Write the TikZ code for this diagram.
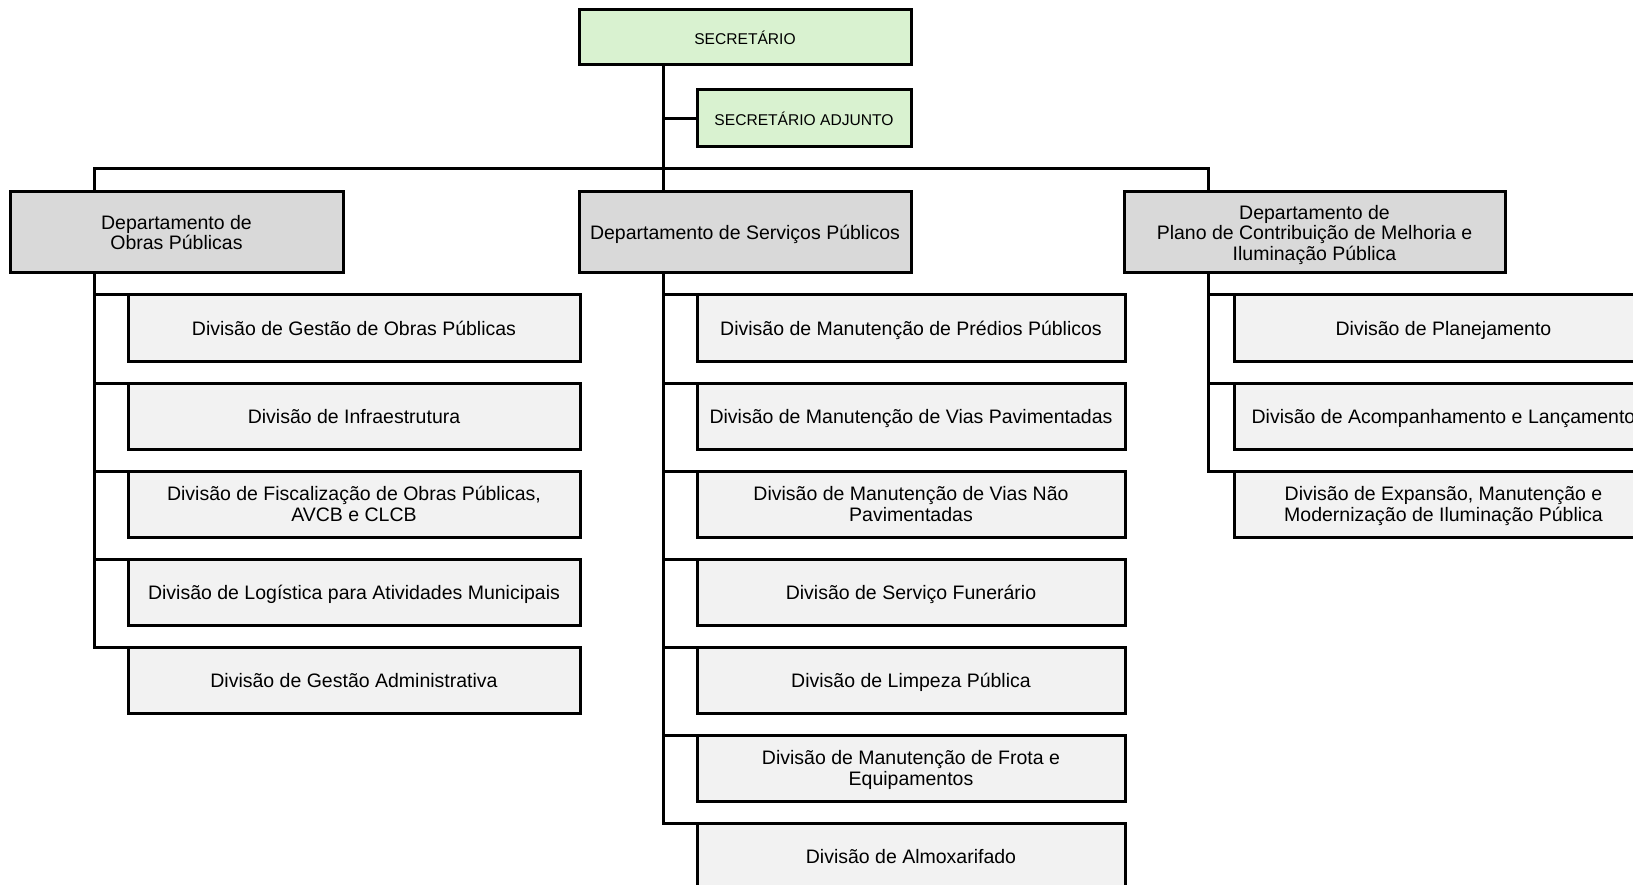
\documentclass[tikz,border=0pt]{standalone}
\usepackage{fontspec}
\setmainfont{Liberation Sans}
\usepackage{tikz}
\usetikzlibrary{positioning}
\definecolor{verde}{HTML}{D9F2D0}
\definecolor{cinza}{HTML}{D9D9D9}
\definecolor{claro}{HTML}{F2F2F2}

\begin{document}
\begin{tikzpicture}[x=1pt, y=-1pt,
    caixa/.style={draw, line width=3pt, inner sep=0pt, outer sep=0pt, align=center,
      text depth=0pt, font=\fontsize{19.5}{20.5}\selectfont},
    chefia/.style={caixa, fill=verde, font=\fontsize{15.6}{18}\selectfont},
    depto/.style={caixa, fill=cinza, minimum height=81pt},
    divisao/.style={caixa, fill=claro, minimum height=66pt},
    linha/.style={line width=3pt}]
    \clip (0,0) rectangle (1633,885);

    \node[chefia, minimum width=332pt, minimum height=55pt] (sec) at (745,37.5) {SECRETÁRIO};
    \node[chefia, minimum width=214pt, minimum height=57pt] (adj) at (804,118.5) {SECRETÁRIO ADJUNTO};

    \node[depto, minimum width=333pt] (obras) at (176.5,232.5) {Departamento de\\Obras Públicas};
    \node[depto, minimum width=332pt] (serv) at (745,232.5) {Departamento de Serviços Públicos};
    \node[depto, minimum width=381pt] (plano) at (1314.5,232.5) {Departamento de\\Plano de Contribuição de Melhoria e\\Iluminação Pública};

    \begin{scope}[divisao/.append style={minimum width=452pt}]
    \node[divisao] (o1) at (354,328) {Divisão de Gestão de Obras Públicas};
    \node[divisao, below=22pt of o1] (o2) {Divisão de Infraestrutura};
    \node[divisao, below=22pt of o2] (o3) {Divisão de Fiscalização de Obras Públicas,\\AVCB e CLCB};
    \node[divisao, below=22pt of o3] (o4) {Divisão de Logística para Atividades Municipais};
    \node[divisao, below=22pt of o4] (o5) {Divisão de Gestão Administrativa};
    \end{scope}

    \begin{scope}[divisao/.append style={minimum width=428pt}]
    \node[divisao] (s1) at (911,328) {Divisão de Manutenção de Prédios Públicos};
    \node[divisao, below=22pt of s1] (s2) {Divisão de Manutenção de Vias Pavimentadas};
    \node[divisao, below=22pt of s2] (s3) {Divisão de Manutenção de Vias Não\\Pavimentadas};
    \node[divisao, below=22pt of s3] (s4) {Divisão de Serviço Funerário};
    \node[divisao, below=22pt of s4] (s5) {Divisão de Limpeza Pública};
    \node[divisao, below=22pt of s5] (s6) {Divisão de Manutenção de Frota e\\Equipamentos};
    \node[divisao, below=22pt of s6] (s7) {Divisão de Almoxarifado};
    \end{scope}

    \begin{scope}[divisao/.append style={minimum width=419pt}]
    \node[divisao] (p1) at (1443.5,328) {Divisão de Planejamento};
    \node[divisao, below=22pt of p1] (p2) {Divisão de Acompanhamento e Lançamento};
    \node[divisao, below=22pt of p2] (p3) {Divisão de Expansão, Manutenção e\\Modernização de Iluminação Pública};
    \end{scope}

    \draw[linha] ([xshift=84pt]sec.south west) -- ([xshift=84pt]serv.north west);
    \draw[linha] (adj.west) -| ([xshift=84pt]sec.south west);
    \draw[linha] ([xshift=84pt]obras.north west) -- ++(0,-23) -| ([xshift=84pt]plano.north west);

    \draw[linha] ([xshift=84pt]obras.south west) |- (o1.north west);
    \draw[linha] ([xshift=84pt]obras.south west) |- (o2.north west);
    \draw[linha] ([xshift=84pt]obras.south west) |- (o3.north west);
    \draw[linha] ([xshift=84pt]obras.south west) |- (o4.north west);
    \draw[linha] ([xshift=84pt]obras.south west) |- (o5.north west);

    \draw[linha] ([xshift=84pt]serv.south west) |- (s1.north west);
    \draw[linha] ([xshift=84pt]serv.south west) |- (s2.north west);
    \draw[linha] ([xshift=84pt]serv.south west) |- (s3.north west);
    \draw[linha] ([xshift=84pt]serv.south west) |- (s4.north west);
    \draw[linha] ([xshift=84pt]serv.south west) |- (s5.north west);
    \draw[linha] ([xshift=84pt]serv.south west) |- (s6.north west);
    \draw[linha] ([xshift=84pt]serv.south west) |- (s7.north west);

    \draw[linha] ([xshift=84pt]plano.south west) |- (p1.north west);
    \draw[linha] ([xshift=84pt]plano.south west) |- (p2.north west);
    \draw[linha] ([xshift=84pt]plano.south west) |- (p3.north west);
\end{tikzpicture}
\end{document}
